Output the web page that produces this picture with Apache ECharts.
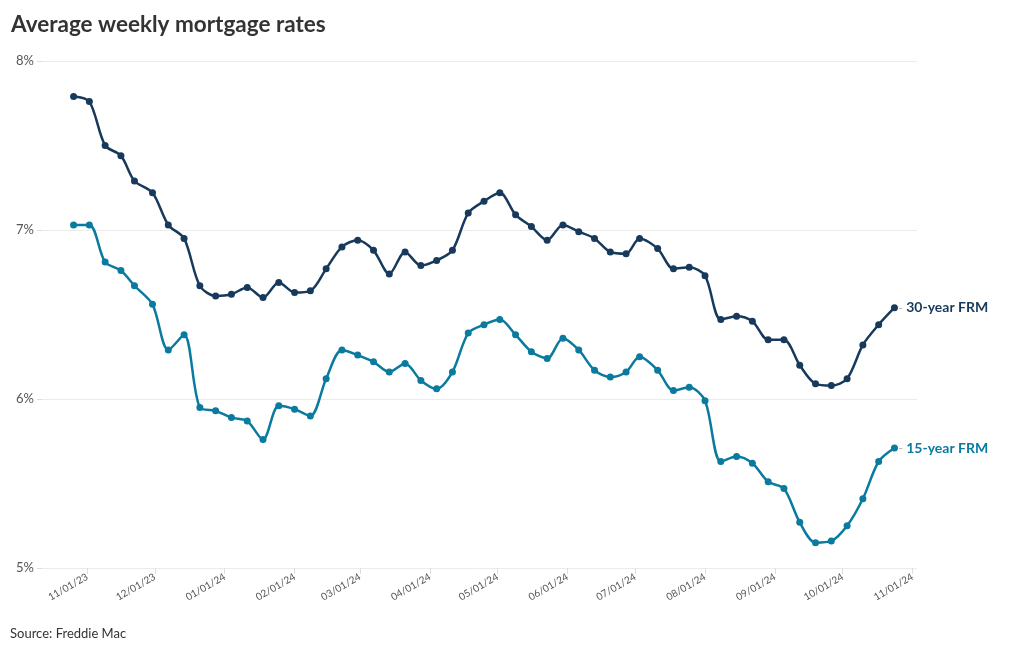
<!DOCTYPE html>
<html>
<head>
<meta charset="utf-8">
<script src="https://cdn.jsdelivr.net/npm/echarts@6/dist/echarts.min.js"></script>
<style>
html,body{margin:0;padding:0;background:#fff;}
#chart{width:1020px;height:650px;}
</style>
</head>
<body>
<div id="chart"></div>
<script>
const dates = ['2023-10-26','2023-11-02','2023-11-09','2023-11-16','2023-11-22','2023-11-30',
'2023-12-07','2023-12-14','2023-12-21','2023-12-28','2024-01-04','2024-01-11','2024-01-18','2024-01-25',
'2024-02-01','2024-02-08','2024-02-15','2024-02-22','2024-02-29','2024-03-07','2024-03-14','2024-03-21','2024-03-28',
'2024-04-04','2024-04-11','2024-04-18','2024-04-25','2024-05-02','2024-05-09','2024-05-16','2024-05-23','2024-05-30',
'2024-06-06','2024-06-13','2024-06-20','2024-06-27','2024-07-03','2024-07-11','2024-07-18','2024-07-25',
'2024-08-01','2024-08-08','2024-08-15','2024-08-22','2024-08-29','2024-09-05','2024-09-12','2024-09-19','2024-09-26',
'2024-10-03','2024-10-10','2024-10-17','2024-10-24'];
const frm30 = [7.79,7.76,7.50,7.44,7.29,7.22,7.03,6.95,6.67,6.61,6.62,6.66,6.60,6.69,
6.63,6.64,6.77,6.90,6.94,6.88,6.74,6.87,6.79,6.82,6.88,7.10,7.17,7.22,7.09,7.02,6.94,7.03,
6.99,6.95,6.87,6.86,6.95,6.89,6.77,6.78,6.73,6.47,6.49,6.46,6.35,6.35,6.20,6.09,6.08,
6.12,6.32,6.44,6.54];
const frm15 = [7.03,7.03,6.81,6.76,6.67,6.56,6.29,6.38,5.95,5.93,5.89,5.87,5.76,5.96,
5.94,5.90,6.12,6.29,6.26,6.22,6.16,6.21,6.11,6.06,6.16,6.39,6.44,6.47,6.38,6.28,6.24,6.36,
6.29,6.17,6.13,6.16,6.25,6.17,6.05,6.07,5.99,5.63,5.66,5.62,5.51,5.47,5.27,5.15,5.16,
5.25,5.41,5.63,5.71];
const seriesNames = ['30-year FRM','15-year FRM'];
const yTicks = [5,6,7,8];

function toTs(s){const p=s.split('-');return new Date(+p[0],+p[1]-1,+p[2]).getTime();}
function pad(n){return (n<10?'0':'')+n;}
const c30='#173a5c', c15='#0a7a9f';
const font='Lato, "Noto Sans", sans-serif';

const chart = echarts.init(document.getElementById('chart'));
function mk(name, vals, color){
  return {
    name:name, type:'line', smooth:0.3,
    data: dates.map((d,i)=>[toTs(d), vals[i]]),
    symbol:'circle', symbolSize:7,
    lineStyle:{color:color,width:2.5},
    itemStyle:{color:color},
    endLabel:{show:true, distance:4, formatter:'{d|-} {n|'+name+'}',
      rich:{d:{color:'#aaa',fontSize:12,fontFamily:font},
            n:{color:color,fontSize:14,fontWeight:'bold',fontFamily:font}}},
    emphasis:{disabled:true}, animation:false
  };
}
chart.setOption({
  animation:false,
  title:[{text:'Average weekly mortgage rates',left:6,top:8,
    textStyle:{fontFamily:font,fontSize:22.5,fontWeight:'bold',color:'#333'}},
    {text:'Source: Freddie Mac',left:5,top:622,
    textStyle:{fontFamily:font,fontSize:13,fontWeight:'normal',color:'#333'}}],
  grid:{left:42,right:103,top:61,bottom:82},
  xAxis:{type:'time', min:toTs('2023-10-12'), max:toTs('2024-11-03'), splitNumber:13,
    axisLine:{show:false},
    axisTick:{show:true,length:6,lineStyle:{color:'#ddd'}},
    splitLine:{show:false},
    axisLabel:{rotate:30,fontSize:10,color:'#555',fontFamily:font,margin:8,
      formatter:function(v){const d=new Date(v);return pad(d.getMonth()+1)+'/'+pad(d.getDate())+'/'+String(d.getFullYear()).slice(2);}}
  },
  yAxis:{type:'value', min:yTicks[0], max:yTicks[yTicks.length-1], interval:1,
    axisLine:{show:false},
    axisTick:{show:true,length:5,lineStyle:{color:'#ddd'}},
    splitLine:{lineStyle:{color:'#ebebeb'}},
    axisLabel:{formatter:'{value}%',fontSize:13,color:'#555',fontFamily:font,margin:8}
  },
  series:[mk(seriesNames[0],frm30,c30), mk(seriesNames[1],frm15,c15)]
});
</script>
</body>
</html>
